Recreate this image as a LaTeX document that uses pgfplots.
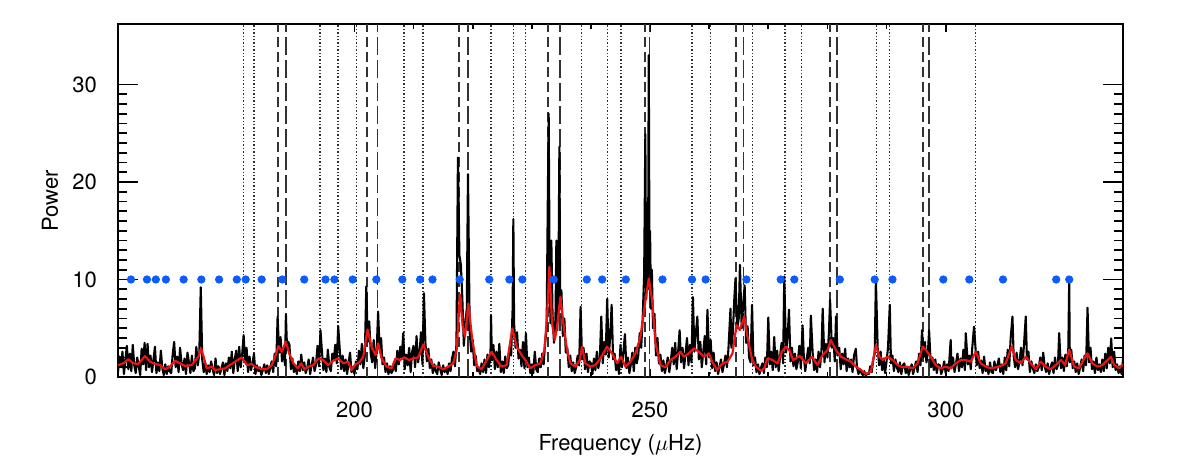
\documentclass[border=0pt]{standalone}
\usepackage{fontspec}
\setmainfont{TeX Gyre Heros}
\usepackage{pgfplots}
\pgfplotsset{compat=1.18}
\definecolor{dotblue}{RGB}{12,92,250}
\definecolor{vline}{RGB}{50,50,50}
\definecolor{smoothred}{RGB}{235,20,20}
\begin{document}
\begin{tikzpicture}
\begin{axis}[name=ax, scale only axis, width=502.5pt, height=176.5pt,
  xmin=160, xmax=330, ymin=0, ymax=36.2,
  xtick={200,250,300}, minor x tick num=4,
  ytick={0,10,20,30}, minor y tick num=9,
  tick align=inside,
  xtick style={/pgfplots/major tick length=4pt, /pgfplots/minor tick length=2.5pt, line width=0.9pt, black},
  ytick style={/pgfplots/major tick length=10pt, /pgfplots/minor tick length=4.5pt, line width=0.9pt, black},
  axis line style={line width=1pt},
  /pgf/number format/assume math mode=true,
  ticklabel style={font=\fontsize{11}{13}\selectfont},
  xticklabel style={yshift=-9pt},
  yticklabel style={xshift=-7pt},
  label style={font=\fontsize{11}{13}\selectfont},
  xlabel={Frequency ($\mu$Hz)}, ylabel={Power},
  xlabel style={at={(axis description cs:0.5,0)}, anchor=center, yshift=-34pt},
  ylabel style={at={(axis description cs:0,0.5)}, anchor=center, rotate=0, yshift=34pt},
  clip=true]

% mode frequencies
\addplot[ycomb, vline, line width=0.7pt, dash pattern=on 0.7pt off 1pt] coordinates {
(181.2,36.2)(183.0,36.2)(194.2,36.2)(197.2,36.2)(200.3,36.2)(208.4,36.2)(211.6,36.2)
(223.1,36.2)(226.9,36.2)(228.9,36.2)(238.4,36.2)(242.8,36.2)(245.1,36.2)(257.1,36.2)
(260.2,36.2)(267.3,36.2)(272.8,36.2)(275.6,36.2)(288.3,36.2)(290.5,36.2)(305.0,36.2)};
\addplot[ycomb, vline, line width=0.9pt, dash pattern=on 5pt off 2.5pt] coordinates {
(187.0,36.2)(202.1,36.2)(217.7,36.2)(232.8,36.2)(249.1,36.2)(264.6,36.2)(280.5,36.2)(296.1,36.2)};
\addplot[ycomb, vline, line width=0.9pt, dash pattern=on 9pt off 2.5pt] coordinates {
(188.4,36.2)(203.9,36.2)(219.2,36.2)(234.7,36.2)(249.9,36.2)(265.8,36.2)(281.6,36.2)(297.2,36.2)};

% power spectrum
\addplot[black, line width=1.05pt, line join=round] coordinates {
(160,0.5)(160.25,2.1)(160.5,1.0)(160.75,2.6)
(161,0.3)(161.25,1.7)(161.5,3.2)(161.75,0.8)
(162,2.4)(162.25,0.6)(162.5,3.3)(162.75,1.2)
(163,0.4)(163.25,2.0)(163.5,1.1)(163.75,0.2)
(164,2.9)(164.25,1.3)(164.5,3.5)(164.75,0.7)
(165,3.4)(165.25,1.0)(165.5,2.2)(165.75,0.5)
(166,1.8)(166.25,3.1)(166.5,0.4)(166.75,1.5)
(167,0.6)(167.25,2.7)(167.5,0.9)(167.75,0.2)
(168,1.3)(168.25,0.3)(168.5,1.1)(168.75,0.6)
(169,0.4)(169.25,2.3)(169.5,3.6)(169.75,1.0)
(170,2.1)(170.25,0.5)(170.5,3.0)(170.75,1.4)
(171,0.7)(171.25,1.9)(171.5,0.3)(171.75,2.5)
(172,1.5)(172.25,0.4)(172.5,2.2)(172.75,0.6)
(173,0.9)(173.25,3.1)(173.5,1.2)(173.75,2.4)
(174,9.2)(174.25,1.8)(174.5,0.5)(174.75,1.4)
(175,0.3)(175.25,1.2)(175.5,0.5)(175.75,1.6)
(176,0.8)(176.25,0.2)(176.5,1.9)(176.75,0.4)
(177,1.1)(177.25,0.3)(177.5,0.9)(177.75,1.5)
(178,0.2)(178.25,1.4)(178.5,0.6)(178.75,2.0)
(179,0.9)(179.25,2.6)(179.5,0.4)(179.75,1.8)
(180,2.7)(180.25,0.6)(180.5,3.1)(180.75,1.0)
(181,2.3)(181.25,4.3)(181.5,1.5)(181.75,3.0)
(182,0.5)(182.25,2.1)(182.5,0.7)(182.75,1.4)
(183,2.4)(183.25,0.3)(183.5,1.2)(183.75,0.6)
(184,1.0)(184.25,0.2)(184.5,0.7)(184.75,1.3)
(185,0.4)(185.25,1.2)(185.5,0.3)(185.75,0.9)
(186,1.6)(186.25,0.5)(186.5,2.4)(186.75,1.1)
(187,6.2)(187.25,2.5)(187.5,4.1)(187.75,1.6)
(188,3.0)(188.25,1.2)(188.4,6.4)(188.6,2.8)(188.8,3.6)
(189,3.3)(189.25,0.8)(189.5,1.9)(189.75,0.5)
(190,1.2)(190.25,0.3)(190.5,1.6)(190.75,0.6)
(191,2.3)(191.25,0.7)(191.5,1.5)(191.75,0.4)
(192,0.9)(192.25,1.8)(192.5,0.3)(192.75,1.2)
(193,2.0)(193.25,0.6)(193.5,1.3)(193.75,3.2)
(194,1.1)(194.25,4.8)(194.5,2.6)(194.75,0.7)
(195,1.9)(195.25,0.5)(195.5,2.8)(195.75,1.0)
(196,0.6)(196.25,2.4)(196.5,1.7)(196.75,3.3)
(197,1.4)(197.25,5.2)(197.5,2.9)(197.75,0.8)
(198,2.2)(198.25,0.6)(198.5,1.8)(198.75,0.3)
(199,1.4)(199.25,2.5)(199.5,0.5)(199.75,1.0)
(200,0.3)(200.25,1.6)(200.5,0.8)(200.75,2.7)
(201,1.3)(201.25,3.4)(201.5,0.9)(201.75,2.2)
(202,9.3)(202.25,3.6)(202.5,5.7)(202.75,2.4)
(203,1.5)(203.25,3.8)(203.5,0.9)(203.75,2.6)
(204,6.7)(204.25,2.8)(204.5,4.0)(204.75,1.3)
(205,2.0)(205.25,0.5)(205.5,1.4)(205.75,0.3)
(206,1.1)(206.25,0.4)(206.5,0.7)(206.75,1.5)
(207,0.6)(207.25,2.7)(207.5,1.3)(207.75,3.1)
(208,2.0)(208.25,4.5)(208.5,0.8)(208.75,2.3)
(209,1.2)(209.25,3.0)(209.5,0.5)(209.75,2.6)
(210,3.2)(210.25,1.0)(210.5,4.2)(210.75,1.5)
(211,2.4)(211.25,4.6)(211.5,1.3)(211.75,8.6)
(212,3.5)(212.25,1.6)(212.5,2.9)(212.75,0.9)
(213,1.8)(213.25,0.4)(213.5,1.3)(213.75,0.6)
(214,0.3)(214.25,1.5)(214.5,0.8)(214.75,0.2)
(215,1.2)(215.25,0.5)(215.5,0.9)(215.75,0.3)
(216,1.4)(216.25,0.6)(216.5,1.9)(216.75,2.6)
(217,1.1)(217.25,3.4)(217.5,22.5)(217.75,12.5)
(218,11.5)(218.25,8.0)(218.5,3.2)(218.75,5.5)
(219,7.0)(219.2,20.8)(219.5,4.5)(219.75,2.6)
(220,3.8)(220.25,1.2)(220.5,2.2)(220.75,0.6)
(221,0.9)(221.25,0.3)(221.5,1.4)(221.75,0.5)
(222,1.8)(222.25,0.4)(222.5,2.3)(222.75,1.0)
(223,2.2)(223.1,6.3)(223.25,1.7)(223.5,3.3)(223.75,0.8)
(224,2.6)(224.25,1.0)(224.5,3.4)(224.75,0.5)
(225,1.6)(225.25,0.4)(225.5,2.1)(225.75,0.9)
(226,1.2)(226.25,3.0)(226.5,2.2)(226.75,7.0)(226.875,16.2)
(227,5.5)(227.25,3.0)(227.5,4.6)(227.75,1.9)
(228,2.8)(228.25,1.1)(228.5,3.6)(228.75,0.9)
(229,4.5)(229.25,1.0)(229.5,2.0)(229.75,0.4)
(230,1.3)(230.25,0.4)(230.5,2.6)(230.75,0.8)
(231,0.5)(231.25,1.9)(231.5,1.0)(231.75,2.4)
(232,1.3)(232.25,3.5)(232.5,5.0)(232.7,18.0)(232.85,27.0)
(233,12.0)(233.15,5.5)(233.3,14.0)(233.5,6.5)(233.75,3.5)
(234,6.0)(234.15,14.0)(234.3,4.8)(234.5,9.5)(234.66,23.6)(234.8,7.0)
(235,8.9)(235.25,4.2)(235.5,6.0)(235.75,2.5)
(236,3.0)(236.25,1.0)(236.5,2.2)(236.75,0.6)
(237,1.5)(237.25,0.4)(237.5,1.0)(237.75,2.2)
(238,1.2)(238.25,7.2)(238.5,1.8)(238.75,3.0)
(239,0.8)(239.25,2.4)(239.5,0.5)(239.75,1.6)
(240,1.4)(240.25,0.3)(240.5,1.9)(240.75,0.7)
(241,2.6)(241.25,0.9)(241.5,1.8)(241.75,6.2)
(242,1.4)(242.25,3.6)(242.5,2.3)(242.75,8.0)
(243,2.0)(243.25,4.1)(243.5,7.4)(243.75,1.8)
(244,2.4)(244.25,0.7)(244.5,1.5)(244.75,0.3)
(245,3.3)(245.25,1.0)(245.5,2.6)(245.75,4.4)
(246,0.9)(246.25,2.0)(246.5,0.4)(246.75,1.3)
(247,2.5)(247.25,0.6)(247.5,3.0)(247.75,1.4)
(248,2.2)(248.25,4.5)(248.5,3.0)(248.75,6.0)
(249,10.5)(249.2,24.9)(249.35,8.0)(249.5,14.0)(249.65,9.0)(249.78,33.0)(249.9,12.0)
(250,15.0)(250.15,7.0)(250.3,11.0)(250.5,5.0)(250.75,6.5)
(251,2.2)(251.25,4.0)(251.5,1.4)(251.75,2.3)
(252,0.6)(252.25,1.7)(252.5,0.4)(252.75,1.2)
(253,2.0)(253.25,0.5)(253.5,1.6)(253.75,3.0)
(254,1.3)(254.25,3.5)(254.5,0.8)(254.75,2.6)
(255,4.8)(255.25,1.5)(255.5,3.0)(255.75,0.9)
(256,2.4)(256.25,4.0)(256.5,1.2)(256.75,3.3)
(257,1.5)(257.25,8.2)(257.5,2.6)(257.75,4.5)
(258,6.2)(258.25,1.8)(258.5,3.6)(258.75,1.0)
(259,2.6)(259.25,4.2)(259.5,1.3)(259.7,6.9)
(260,2.0)(260.25,3.8)(260.5,0.9)(260.75,2.5)
(261,0.6)(261.25,1.5)(261.5,0.3)(261.75,1.0)
(262,1.8)(262.25,0.5)(262.5,1.3)(262.75,2.2)
(263,1.0)(263.25,2.8)(263.6,7.0)(263.75,3.0)
(264,4.5)(264.25,8.0)(264.45,10.1)(264.75,5.0)
(265,6.0)(265.2,11.5)(265.5,5.0)(265.75,7.5)
(266,9.4)(266.25,3.5)(266.5,5.2)(266.75,2.0)
(267,1.5)(267.25,7.4)(267.5,1.2)(267.75,2.0)
(268,0.5)(268.25,1.3)(268.5,0.3)(268.75,0.9)
(269,1.4)(269.25,0.4)(269.5,2.0)(269.75,1.0)
(270,6.1)(270.25,1.3)(270.5,2.6)(270.75,0.7)
(271,4.1)(271.25,1.0)(271.5,2.7)(271.75,0.6)
(272,2.2)(272.25,3.5)(272.5,1.4)(272.7,10.3)
(273,2.5)(273.25,4.0)(273.5,6.9)(273.75,1.6)
(274,3.0)(274.25,1.1)(274.5,2.4)(274.75,0.8)
(275,1.6)(275.25,3.2)(275.5,0.9)(275.8,5.3)
(276,2.2)(276.25,0.6)(276.5,1.8)(276.75,3.0)
(277,1.4)(277.2,6.3)(277.5,2.5)(277.75,0.7)
(278,1.8)(278.25,0.5)(278.5,2.6)(278.75,1.0)
(279,2.8)(279.2,7.0)(279.5,1.5)(279.75,3.4)
(280,2.0)(280.25,4.5)(280.45,7.9)(280.75,3.0)
(281,4.0)(281.25,1.6)(281.45,6.2)(281.75,2.2)
(282,3.0)(282.25,0.8)(282.5,2.4)(282.75,1.3)
(283,2.9)(283.25,0.6)(283.5,1.9)(283.75,1.0)
(284,1.8)(284.25,0.5)(284.5,2.2)(284.8,2.9)
(285,1.0)(285.25,0.3)(285.5,0.8)(285.75,0.4)
(286,0.2)(286.25,0.6)(286.5,0.1)(286.75,0.4)
(287,0.3)(287.25,1.1)(287.5,0.5)(287.75,1.8)
(288,2.4)(288.2,10.0)(288.5,3.0)(288.75,1.2)
(289,2.6)(289.25,0.7)(289.5,1.9)(289.75,0.4)
(290,1.6)(290.25,3.0)(290.55,7.4)(290.75,1.4)
(291,2.2)(291.25,0.6)(291.5,1.8)(291.75,1.0)
(292,0.5)(292.25,1.5)(292.5,0.3)(292.75,1.2)
(293,1.4)(293.25,0.4)(293.5,1.0)(293.75,0.2)
(294,0.8)(294.25,1.3)(294.5,0.3)(294.75,1.0)
(295,1.6)(295.25,0.5)(295.5,2.4)(295.75,1.2)
(296,4.8)(296.25,2.0)(296.5,3.6)(296.75,1.5)
(297,2.5)(297.2,4.8)(297.5,1.0)(297.75,2.0)
(298,0.7)(298.25,1.8)(298.5,0.4)(298.75,1.3)
(299,1.2)(299.25,0.3)(299.5,0.8)(299.75,1.6)
(300,0.4)(300.25,1.3)(300.5,0.6)(300.85,3.8)
(301,0.9)(301.25,2.0)(301.5,0.5)(301.75,1.4)
(302,2.4)(302.25,0.6)(302.5,1.9)(302.75,1.0)
(303,2.8)(303.25,0.7)(303.4,4.5)(303.75,1.3)
(304,2.2)(304.25,0.8)(304.5,3.0)(304.8,5.15)
(305,3.4)(305.25,1.2)(305.5,2.6)(305.75,0.9)
(306,1.7)(306.25,0.4)(306.5,2.1)(306.75,0.6)
(307,1.1)(307.25,0.3)(307.5,1.5)(307.75,0.5)
(308,0.4)(308.25,1.6)(308.5,0.7)(308.75,1.2)
(309,1.9)(309.25,0.5)(309.5,1.3)(309.75,0.3)
(310,2.0)(310.25,0.7)(310.5,2.8)(310.75,1.1)
(311,4.0)(311.3,6.2)(311.5,2.2)(311.75,1.0)
(312,2.5)(312.25,0.8)(312.5,1.6)(312.75,3.0)
(313,1.2)(313.25,3.3)(313.55,6.2)(313.75,1.8)
(314,2.6)(314.25,0.5)(314.5,1.6)(314.75,0.9)
(315,0.4)(315.25,1.3)(315.5,0.6)(315.75,1.0)
(316,2.0)(316.25,0.7)(316.5,2.5)(316.75,1.1)
(317,0.5)(317.25,1.4)(317.5,0.3)(317.75,1.0)
(318,1.5)(318.25,0.4)(318.5,2.0)(318.75,0.8)
(319,1.2)(319.2,4.5)(319.5,0.9)(319.75,2.0)
(320,0.6)(320.25,2.3)(320.5,1.1)(320.75,3.0)(320.9,10.0)
(321,1.5)(321.25,2.8)(321.5,0.9)(321.75,1.6)
(322,0.5)(322.25,1.4)(322.5,0.3)(322.75,1.0)
(323,1.8)(323.25,0.6)(323.5,2.2)(323.75,1.2)
(324,7.1)(324.25,1.5)(324.5,3.0)(324.75,0.8)
(325,1.6)(325.25,0.4)(325.5,2.0)(325.75,0.7)
(326,1.3)(326.25,0.5)(326.5,1.8)(326.75,0.6)
(327,2.4)(327.25,0.9)(327.5,3.0)(327.75,1.4)
(328,3.95)(328.25,1.0)(328.5,2.6)(328.75,0.7)
(329,1.3)(329.25,0.4)(329.5,1.1)(329.75,0.3)
(330,1.8)};

% smoothed spectrum
\addplot[smoothred, line width=1.1pt, line join=round] coordinates {
(160.0,1.2)(160.9,1.4)(161.75,1.81)(162.6,1.4)(163.44,1.33)(164.57,2.15)(165.42,1.57)
(166.26,1.33)(167.11,1.23)(167.96,0.79)(168.8,1.06)(169.65,1.67)(170.5,1.4)(171.34,1.13)
(172.47,1.23)(173.6,2.08)(174.05,2.94)(174.45,2.15)(175.01,0.89)(175.86,1.06)(176.42,0.72)
(177.27,0.79)(178.12,0.89)(178.96,1.23)(179.81,1.57)(180.94,2.01)(181.78,1.23)(182.63,1.33)
(183.19,1.06)(184.32,0.79)(185.17,0.79)(186.02,1.23)(186.58,2.08)(187.14,3.17)(187.71,2.59)
(188.39,3.62)(188.95,2.42)(189.68,1.4)(190.42,0.89)(190.98,1.4)(191.55,0.79)(192.22,1.06)
(193.07,1.23)(193.86,1.91)(194.71,1.74)(195.55,1.23)(196.4,1.67)(197.25,1.91)(198.09,1.4)
(198.94,1.57)(199.5,0.72)(200.07,1.23)(200.91,1.57)(201.48,2.08)(202.21,4.88)(202.89,3.11)
(203.57,2.25)(204.02,3.45)(204.58,1.91)(205.43,1.06)(206.27,0.89)(206.95,1.91)(207.69,1.74)
(208.42,2.01)(209.21,1.74)(209.94,1.91)(210.79,2.01)(211.64,3.34)(212.48,2.08)(213.33,1.13)
(214.18,1.06)(215.02,0.79)(215.87,1.06)(216.72,1.4)(217.28,2.76)(217.84,8.46)(218.3,5.2)
(218.69,4.13)(219.26,7.54)(219.93,3.79)(220.67,1.13)(221.51,0.79)(222.36,1.74)(223.21,2.59)
(224.05,1.74)(224.9,1.06)(225.74,1.23)(226.7,4.98)(227.44,3.11)(228.28,2.25)(228.91,1.74)
(229.75,0.89)(230.6,1.23)(231.45,1.4)(232.12,2.76)(232.57,6.18)(232.97,11.29)(233.42,5.49)
(233.87,3.79)(234.27,5.15)(234.83,8.22)(235.4,5.15)(235.96,2.76)(236.53,1.4)(237.37,1.06)
(238.1,1.74)(238.5,3.11)(239.06,1.4)(239.91,1.06)(240.76,1.23)(241.6,1.91)(242.73,3.11)
(243.58,2.42)(244.43,1.4)(245.1,2.08)(245.84,1.06)(246.68,1.57)(247.53,2.42)(248.38,4.13)
(249.22,7.88)(249.79,10.1)(250.35,7.88)(250.92,3.45)(251.76,1.23)(252.61,0.99)(253.46,1.74)
(254.3,2.08)(255.15,2.59)(255.71,2.08)(256.56,2.42)(257.41,2.94)(258.25,2.59)(259.1,2.08)
(259.94,2.42)(260.51,1.57)(261.36,0.72)(262.25,1.4)(263.1,1.57)(263.94,2.42)(264.62,5.32)
(265.18,4.81)(265.92,6.18)(266.48,4.13)(267.22,1.91)(267.89,1.06)(268.74,0.65)(269.3,0.89)
(269.87,1.91)(270.72,1.74)(271.56,1.4)(272.3,2.59)(272.97,3.11)(273.54,2.76)(274.21,1.74)
(275.34,2.15)(276.36,1.4)(277.37,2.08)(278.33,1.23)(279.18,2.25)(280.03,2.76)(280.59,3.79)
(281.44,2.76)(282.28,2.08)(283.13,1.81)(283.98,1.57)(284.82,1.06)(285.67,0.72)(286.52,0.31)
(287.36,0.55)(288.21,3.28)(288.77,2.08)(289.34,1.74)(290.18,2.08)(291.03,1.74)(291.88,1.23)
(292.72,0.99)(293.57,1.06)(294.42,0.89)(295.26,1.4)(296.11,3.11)(296.67,2.76)(297.47,2.08)
(298.31,1.23)(299.16,0.89)(300.01,1.06)(300.85,0.89)(301.7,1.4)(302.55,1.74)(303.39,1.74)
(304.24,1.57)(305.09,2.59)(305.93,1.4)(306.78,1.06)(307.62,0.89)(308.47,0.99)(309.32,1.13)
(310.16,1.4)(311.18,3.11)(311.86,1.74)(312.7,1.4)(313.55,2.08)(314.4,1.4)(315.24,0.79)
(316.09,1.57)(316.94,1.06)(317.78,0.79)(318.63,1.23)(319.48,1.74)(320.21,1.23)(320.89,2.83)
(321.73,1.06)(322.58,0.89)(323.14,1.57)(323.99,2.42)(324.84,1.4)(325.68,1.06)(326.53,1.23)
(327.38,1.74)(327.94,2.08)(328.51,1.23)(329.35,0.89)(330.0,1.33)};

% identified modes
\addplot[only marks, mark=*, mark size=1.85pt, dotblue, mark options={draw=dotblue, fill=dotblue}] coordinates {
(162.2,10)(164.9,10)(166.4,10)(168.1,10)(171.1,10)(174.1,10)(177.1,10)(180.1,10)(181.6,10)
(184.3,10)(187.8,10)(191.5,10)(195.1,10)(196.6,10)(199.7,10)(203.7,10)(208.1,10)(211.1,10)
(213.2,10)(217.8,10)(222.8,10)(226.2,10)(228.4,10)(233.7,10)(239.3,10)(241.9,10)(245.9,10)
(252.1,10)(257.1,10)(259.4,10)(266.3,10)(272.1,10)(274.4,10)(282.1,10)(288.0,10)(291.0,10)
(299.6,10)(304.0,10)(309.7,10)(318.7,10)(320.9,10)};
\end{axis}
\pgfresetboundingbox
\path[use as bounding box] ([xshift=-59pt,yshift=-47.5pt]ax.south west) rectangle ([xshift=29pt,yshift=12pt]ax.north east);
\end{tikzpicture}
\end{document}
